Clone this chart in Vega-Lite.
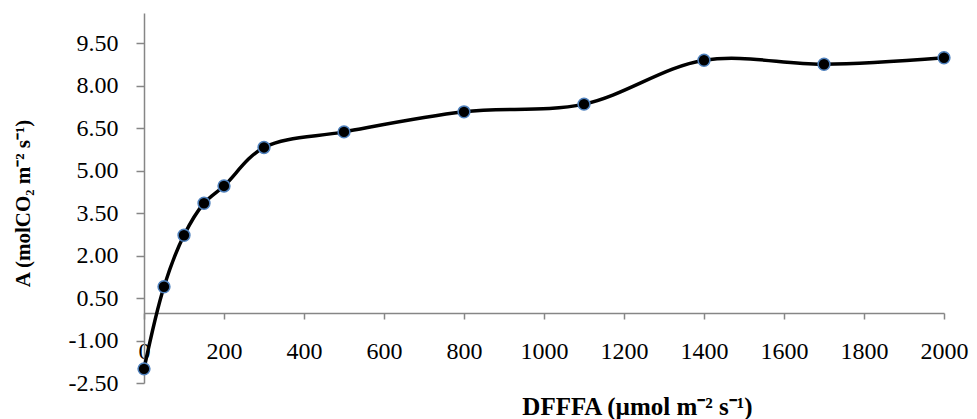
{
  "$schema": "https://vega.github.io/schema/vega-lite/v6.json",
  "autosize": {"type": "none"},
  "padding": {"left": 144, "top": 13, "right": 33, "bottom": 36},
  "width": 800,
  "height": 370,
  "background": "white",
  "config": {
    "view": {"stroke": null},
    "font": "Liberation Serif",
    "axis": {
      "domainColor": "#868686",
      "domainWidth": 1.5,
      "tickColor": "#868686",
      "tickWidth": 1.5,
      "grid": false,
      "labelFont": "Liberation Serif",
      "labelFontSize": 24,
      "labelColor": "#000000",
      "titleFont": "Liberation Serif",
      "titleFontSize": 22,
      "titleFontWeight": "bold",
      "titleColor": "#000000"
    }
  },
  "data": {
    "values": [
      {"PAR": 0, "A": -2.0},
      {"PAR": 50, "A": 0.9},
      {"PAR": 100, "A": 2.72},
      {"PAR": 150, "A": 3.85},
      {"PAR": 200, "A": 4.46},
      {"PAR": 300, "A": 5.82},
      {"PAR": 500, "A": 6.37},
      {"PAR": 800, "A": 7.08},
      {"PAR": 1100, "A": 7.35},
      {"PAR": 1400, "A": 8.9},
      {"PAR": 1700, "A": 8.76},
      {"PAR": 2000, "A": 8.99}
    ]
  },
  "encoding": {
    "x": {
      "field": "PAR",
      "type": "quantitative",
      "scale": {"domain": [0, 2000], "nice": false, "zero": false},
      "axis": {
        "title": "DFFFA (µmol m⁻² s⁻¹)",
        "values": [0, 200, 400, 600, 800, 1000, 1200, 1400, 1600, 1800, 2000],
        "format": "d",
        "offset": -70,
        "tickSize": 6,
        "labelPadding": 20,
        "labelFont": "Liberation Serif",
        "labelFlush": false,
        "labelOverlap": false,
        "titleFontSize": 25,
        "titleX": 493,
        "titleY": 101,
        "titleAlign": "center",
        "titleBaseline": "alphabetic",
        "titleAnchor": null
      }
    },
    "y": {
      "field": "A",
      "type": "quantitative",
      "scale": {"domain": [-2.5, 10.57], "nice": false, "zero": false},
      "axis": {
        "title": "A (molCO₂ m⁻² s⁻¹)",
        "values": [-2.5, -1, 0.5, 2, 3.5, 5, 6.5, 8, 9.5],
        "labelExpr": "replace(format(datum.value, '.2f'), '−', '-')",
        "tickSize": 8,
        "labelPadding": 18,
        "labelFont": "Liberation Serif",
        "labelFlush": false,
        "labelOverlap": false,
        "titleFontSize": 21,
        "titleX": -121,
        "titleY": 190,
        "titleAngle": -90,
        "titleAlign": "center",
        "titleBaseline": "middle",
        "titleAnchor": null
      }
    }
  },
  "layer": [
    {
      "mark": {"type": "line", "interpolate": "catmull-rom", "color": "#000000", "strokeWidth": 3.5}
    },
    {
      "mark": {"type": "point", "filled": false, "shape": "circle", "size": 140, "fill": "#000000", "fillOpacity": 1, "stroke": "#4F81BD", "strokeWidth": 1.5, "opacity": 1}
    }
  ]
}
